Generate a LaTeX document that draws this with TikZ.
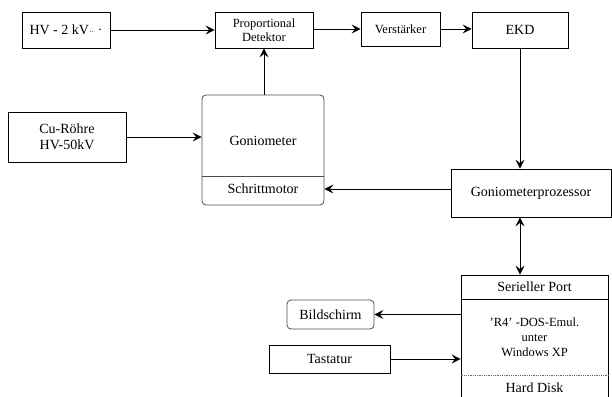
\documentclass[tikz,border=0pt]{standalone}
\usepackage{fontspec}
\setmainfont{Liberation Serif}[Ligatures=TeX]
\usetikzlibrary{arrows.meta,calc,positioning}
\tikzset{%
	block/.style    = {draw, rectangle, line width=0.8pt, inner sep=0pt, align=center, font=\fontsize{14}{16}\selectfont},
	smallblock/.style = {block, font=\fontsize{12.5}{14}\selectfont},
	roundblock/.style = {block, rounded corners=4pt, draw=black!70},
	txt/.style      = {inner sep=0pt, align=center, font=\fontsize{14}{16}\selectfont},
	arrow/.style    = {line width=0.8pt, -{Stealth[length=9pt,width=9pt,inset=3.5pt]}},
	dblarrow/.style = {line width=0.8pt, {Stealth[length=9pt,width=9pt,inset=3.5pt]}-{Stealth[length=9pt,width=9pt,inset=3.5pt]}},
}
\begin{document}
\begin{tikzpicture}[x=1pt,y=-1pt]
	\useasboundingbox (0,0) rectangle (612,396);
	\clip (0,0) rectangle (612,396);
	% top row
	\node[block, minimum width=88pt, minimum height=36pt] (hv) at (66,30) {HV - 2 kV{\fontsize{8}{8}\selectfont··}~·};
	\node[smallblock, minimum width=98pt, minimum height=36pt] (detektor) at (264,30) {Proportional\\Detektor};
	\node[smallblock, minimum width=79pt, minimum height=34pt] (verstaerker) at (400.5,29) {Verstärker};
	\node[block, minimum width=96pt, minimum height=36pt] (ekd) at (520,30) {EKD};
	% goniometer
	\node[block, minimum width=118pt, minimum height=50pt] (roehre) at (67,137) {Cu-Röhre\\HV-50kV};
	\node[roundblock, minimum width=122pt, minimum height=110pt] (gonio) at (263,150) {};
	\node[txt] (gonlabel) at (263,141) {Goniometer};
	\node[txt] (schritt) at (263,189) {Schrittmotor};
	\draw[line width=0.8pt, black!70] (gonio.west |- 0,176) -- (gonio.east |- 0,176);
	\node[block, minimum width=160pt, minimum height=48pt] (prozessor) at (531,193) {Goniometerprozessor};
	% rechner
	\node[block, minimum width=147pt, minimum height=128pt] (pc) at (534.5,339) {};
	\node[txt] (port) at (534.5,287) {Serieller Port};
	\node[txt, font=\fontsize{12.5}{15}\selectfont] (dos) at (534.5,337) {'R4' -DOS-Emul.\\unter\\Windows XP};
	\node[txt] (disk) at (534.5,388) {Hard Disk};
	\draw[line width=0.8pt] (pc.west |- 0,299) -- (pc.east |- 0,299);
	\draw[line width=0.8pt, black!60, densely dotted] (pc.west |- 0,375) -- (pc.east |- 0,375);
	\node[roundblock, minimum width=87pt, minimum height=29pt] (bild) at (330.5,314.5) {Bildschirm};
	\node[block, minimum width=121pt, minimum height=28pt] (tast) at (329.5,359) {Tastatur};
	% connectors
	\draw[arrow] (hv.east) -- (detektor.west);
	\draw[arrow] (detektor.east |- verstaerker.west) -- (verstaerker.west);
	\draw[arrow] (verstaerker.east) -- (verstaerker.east -| ekd.west);
	\draw[arrow] (ekd.south) -- (ekd.south |- prozessor.north);
	\draw[arrow] (gonio.north -| detektor.south) -- (detektor.south);
	\draw[arrow] (roehre.east) -- (roehre.east -| gonio.west);
	\draw[arrow] (prozessor.west |- schritt) -- (gonio.east |- schritt);
	\draw[dblarrow] (prozessor.south -| ekd.south) -- (pc.north -| ekd.south);
	\draw[arrow] (bild.east -| pc.west) -- (bild.east);
	\draw[arrow] (tast.east) -- (tast.east -| pc.west);
\end{tikzpicture}
\end{document}
